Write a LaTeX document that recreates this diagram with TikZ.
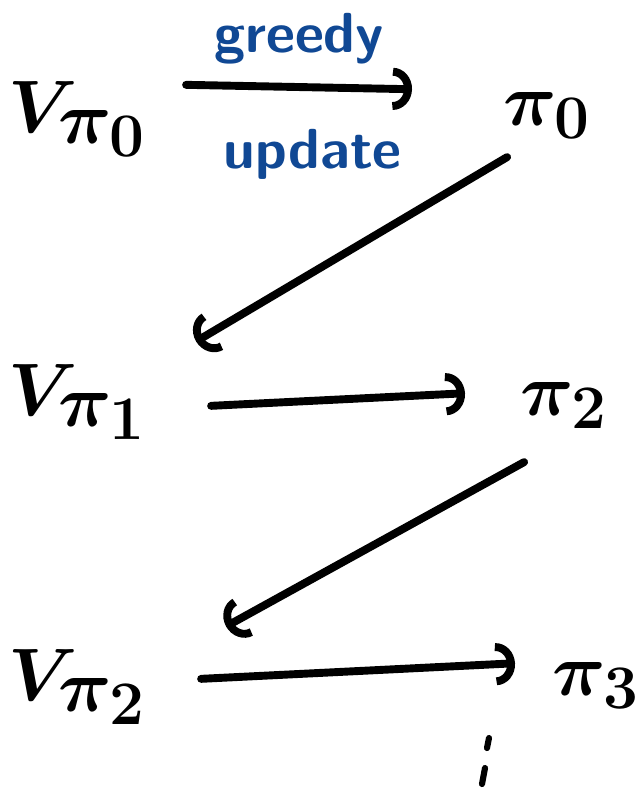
\documentclass[tikz,border=0pt]{standalone}
\usepackage{amsmath}
\usetikzlibrary{arrows.meta}
\definecolor{inkblue}{RGB}{16,72,148}
\definecolor{inkblack}{RGB}{0,0,0}

\begin{document}
\begin{tikzpicture}[x=0.02cm, y=-0.02cm,
    lbl/.style={inner sep=0pt, font=\Huge\boldmath, scale=1.7},
    flow/.style={line width=4.5pt, line cap=round, inkblack,
        -{Arc Barb[length=11pt, width=24pt, line width=4.5pt]}},
    note/.style={inkblue, font=\huge\sffamily\bfseries, scale=1.55}]
    \useasboundingbox (0,0) rectangle (637,789);

    \node[lbl, anchor=base west] (v0) at (8, 132) {$V_{\textstyle\pi_0}$};
    \node[lbl, anchor=base west] (p0) at (503, 125) {$\pi_0$};
    \node[lbl, anchor=base west] (v1) at (8, 415) {$V_{\textstyle\pi_1}$};
    \node[lbl, anchor=base west] (p2) at (520, 415) {$\pi_2$};
    \node[lbl, anchor=base west] (v2) at (8, 700) {$V_{\textstyle\pi_2}$};
    \node[lbl, anchor=base west] (p3) at (552, 695) {$\pi_3$};

    % evaluate / improve steps
    \draw[flow] ([shift={(38,-34)}]v0.east) -- ([shift={(-91,-26)}]p0.west)
        node[midway, note, above=3pt] (g) {greedy}
        node[midway, note, below=10pt, xshift=5] (u) {update};
    \draw[flow] ([shift={(-40,18)}]p0.south) -- ([shift={(48,-22)}]v1.north east);
    \draw[flow] ([shift={(63,4)}]v1.east) -- ([shift={(-55,-12)}]p2.west);
    \draw[flow] ([shift={(-40,33)}]p2.south) -- ([shift={(78,-22)}]v2.north east);
    \draw[flow] ([shift={(53,-8)}]v2.east) -- ([shift={(-37,-22)}]p3.west);

    % dots
    \draw[line width=3.5pt, line cap=round] (489,738) -- (487,748);
    \draw[line width=3.5pt, line cap=round] (485,768) -- (482,784);
\end{tikzpicture}
\end{document}
